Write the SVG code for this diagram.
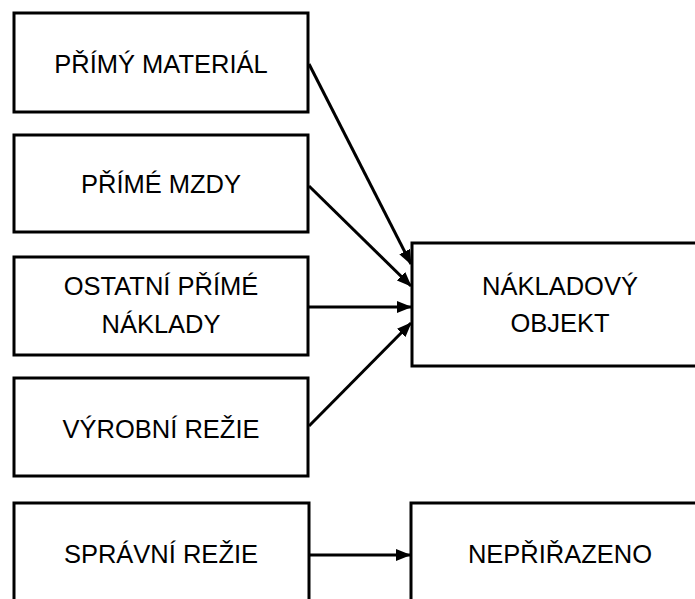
<svg xmlns="http://www.w3.org/2000/svg" width="695" height="599" viewBox="0 0 695 599">
<style>
.box{fill:#fff;stroke:#000;stroke-width:3}
.lbl{font-family:"Liberation Sans",Arial,sans-serif;font-size:25.5px;fill:#000;text-anchor:middle}
.conn{stroke:#000;stroke-width:3;fill:none;marker-end:url(#ah)}
</style>
<defs>
<marker id="ah" viewBox="0 0 15 12" refX="14" refY="6" markerWidth="15" markerHeight="12" markerUnits="userSpaceOnUse" orient="auto">
<path d="M0,0 L15,6 L0,12 Z" fill="#000"/>
</marker>
</defs>
<g id="n1"><rect class="box" x="14" y="13" width="294" height="99"/><text class="lbl" x="161" y="73">PŘÍMÝ MATERIÁL</text></g>
<g id="n2"><rect class="box" x="14" y="135" width="294" height="97"/><text class="lbl" x="161" y="193">PŘÍMÉ MZDY</text></g>
<g id="n3"><rect class="box" x="14" y="257" width="294" height="98"/><text class="lbl" x="161" y="295">OSTATNÍ PŘÍMÉ</text><text class="lbl" x="161" y="333">NÁKLADY</text></g>
<g id="n4"><rect class="box" x="14" y="378" width="294" height="98"/><text class="lbl" x="161" y="438">VÝROBNÍ REŽIE</text></g>
<g id="n5"><rect class="box" x="14" y="503" width="295" height="110"/><text class="lbl" x="161" y="563">SPRÁVNÍ REŽIE</text></g>
<g id="n6"><rect class="box" x="412" y="243" width="300" height="123"/><text class="lbl" x="560" y="295">NÁKLADOVÝ</text><text class="lbl" x="560" y="332">OBJEKT</text></g>
<g id="n7"><rect class="box" x="411" y="503" width="300" height="110"/><text class="lbl" x="560" y="563">NEPŘIŘAZENO</text></g>
<g id="connectors">
<line class="conn" x1="309" y1="64" x2="411" y2="264"/>
<line class="conn" x1="309" y1="186" x2="411" y2="286"/>
<line class="conn" x1="309" y1="307" x2="411" y2="307"/>
<line class="conn" x1="309" y1="426" x2="411" y2="323"/>
<line class="conn" x1="310" y1="555" x2="410" y2="555"/>
</g>
</svg>
